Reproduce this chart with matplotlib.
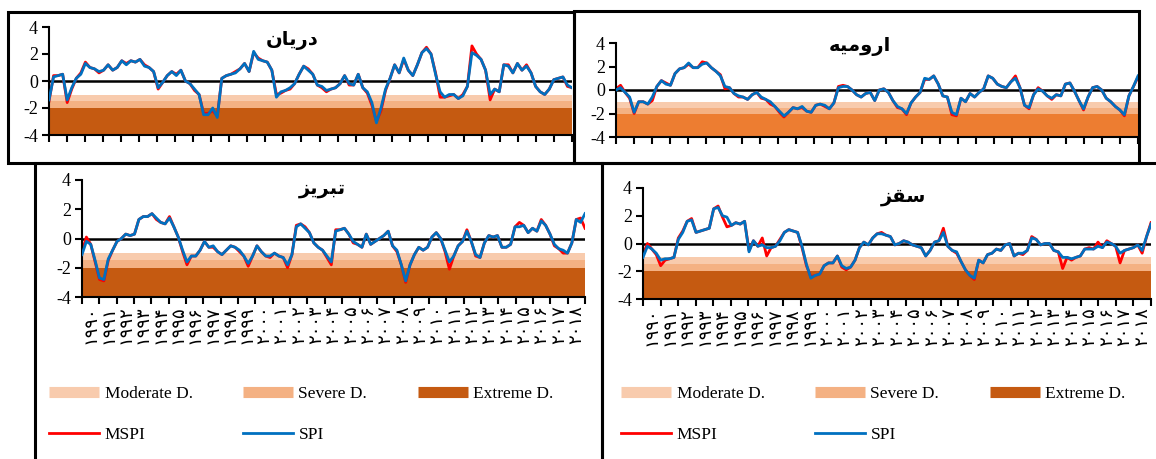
import numpy as np
import matplotlib
matplotlib.use('Agg')
import matplotlib.pyplot as plt
from matplotlib.lines import Line2D
from matplotlib.patches import Rectangle

W, H = 1156, 459

# سال ها (محور افقی)
years = list(range(1990, 2019))
fa_digits = str.maketrans('0123456789', '۰۱۲۳۴۵۶۷۸۹')
year_labels = [str(y).translate(fa_digits) for y in years]

# عنوان ایستگاه ها (حروف به شکل نمایشی، ترتیب دیداری)
title_darian = '\uFEE5\uFE8E\uFBFE\uFEAD\uFEA9'        # دریان
title_urmia = '\uFEEA\uFBFF\uFEE3\uFEED\uFEAD\uFE8D'   # ارومیه
title_tabriz = '\uFEB0\uFBFE\uFEAE\uFE92\uFE97'        # تبریز
title_saqqez = '\uFEB0\uFED8\uFEB3'                    # سقز

# داده های فصلی خوانده شده از نمودار (۱۹۹۰ تا ۲۰۱۸)
darian_spi = [-1.4, 0.3, 0.4, 0.5, -1.4, -0.5, 0.2, 0.5, 1.3, 1.0,
              0.9, 0.7, 0.8, 1.2, 0.8, 1.0, 1.5, 1.2, 1.5, 1.4,
              1.6, 1.1, 1.0, 0.7, -0.5, -0.1, 0.4, 0.7, 0.4, 0.8,
              0.0, -0.2, -0.6, -1.0, -2.5, -2.5, -2.0, -2.7, 0.2, 0.4,
              0.5, 0.6, 0.9, 1.3, 0.7, 2.2, 1.6, 1.5, 1.4, 0.8,
              -1.2, -0.8, -0.7, -0.5, -0.2, 0.5, 1.1, 0.8, 0.5, -0.3,
              -0.4, -0.7, -0.6, -0.5, -0.2, 0.4, -0.2, -0.3, 0.5, -0.5,
              -0.8, -1.6, -3.1, -2.0, -0.6, 0.2, 1.2, 0.6, 1.7, 0.8,
              0.4, 1.2, 2.1, 2.4, 2.0, 0.5, -0.8, -1.2, -1.0, -1.0,
              -1.3, -1.1, -0.4, 2.1, 1.9, 1.6, 0.8, -1.0, -0.6, -0.8,
              1.2, 1.1, 0.6, 1.3, 0.8, 1.1, 0.6, -0.4, -0.8, -1.0,
              -0.6, 0.1, 0.2, 0.3, -0.3, -0.5]
darian_mspi = [-1.5, 0.4, 0.4, 0.5, -1.6, -0.6, 0.2, 0.6, 1.4, 1.0,
               0.9, 0.6, 0.8, 1.2, 0.8, 1.0, 1.5, 1.3, 1.5, 1.4,
               1.6, 1.2, 1.0, 0.7, -0.6, -0.1, 0.4, 0.7, 0.5, 0.8,
               0.0, -0.2, -0.7, -1.0, -2.4, -2.4, -2.2, -2.6, 0.2, 0.4,
               0.5, 0.7, 0.9, 1.3, 0.7, 2.1, 1.7, 1.5, 1.4, 0.8,
               -1.0, -0.9, -0.7, -0.6, -0.2, 0.5, 1.1, 0.9, 0.5, -0.3,
               -0.5, -0.8, -0.6, -0.5, -0.2, 0.4, -0.3, -0.3, 0.5, -0.5,
               -0.9, -1.8, -3.0, -2.2, -0.7, 0.2, 1.2, 0.6, 1.6, 0.8,
               0.4, 1.2, 2.1, 2.5, 2.0, 0.6, -1.2, -1.2, -1.1, -1.0,
               -1.3, -1.0, -0.4, 2.6, 2.0, 1.6, 0.8, -1.4, -0.6, -0.8,
               1.2, 1.2, 0.6, 1.3, 0.8, 1.2, 0.6, -0.4, -0.8, -1.0,
               -0.6, 0.1, 0.2, 0.3, -0.4, -0.5]

urmia_spi = [0.0, 0.2, -0.2, -0.6, -1.9, -1.0, -1.0, -1.2, -0.6, 0.3,
             0.8, 0.5, 0.4, 1.4, 1.8, 1.9, 2.3, 1.9, 1.9, 2.2,
             2.3, 1.9, 1.6, 1.2, 0.3, 0.2, -0.3, -0.5, -0.6, -0.8,
             -0.4, -0.2, -0.6, -0.8, -1.0, -1.4, -1.8, -2.2, -1.9, -1.5,
             -1.6, -1.4, -1.8, -1.9, -1.3, -1.2, -1.3, -1.6, -1.1, 0.2,
             0.3, 0.3, 0.0, -0.4, -0.6, -0.3, -0.2, -0.9, 0.0, 0.1,
             -0.2, -0.9, -1.4, -1.6, -2.0, -1.1, -0.6, -0.2, 1.0, 0.9,
             1.2, 0.5, -0.5, -0.6, -1.9, -2.1, -0.7, -1.0, -0.3, -0.6,
             -0.2, 0.1, 1.2, 1.0, 0.5, 0.3, 0.2, 0.7, 1.0, 0.2,
             -1.3, -1.5, -0.4, 0.1, -0.1, -0.5, -0.7, -0.4, -0.5, 0.5,
             0.6, -0.1, -0.9, -1.6, -0.6, 0.2, 0.3, 0.0, -0.7, -1.0,
             -1.4, -1.7, -2.1, -0.5, 0.3, 1.2]
urmia_mspi = [0.1, 0.4, -0.2, -0.7, -2.0, -1.0, -1.0, -1.2, -0.9, 0.3,
              0.8, 0.6, 0.4, 1.4, 1.8, 1.9, 2.2, 1.9, 1.9, 2.4,
              2.3, 1.9, 1.6, 1.3, 0.1, 0.2, -0.3, -0.6, -0.6, -0.8,
              -0.4, -0.2, -0.7, -0.8, -1.2, -1.4, -1.9, -2.3, -1.9, -1.5,
              -1.6, -1.5, -1.8, -1.9, -1.3, -1.2, -1.4, -1.6, -1.1, 0.3,
              0.4, 0.3, 0.0, -0.4, -0.6, -0.3, -0.2, -0.9, 0.0, 0.1,
              -0.2, -0.9, -1.5, -1.6, -2.1, -1.1, -0.6, -0.2, 0.9, 0.9,
              1.2, 0.5, -0.5, -0.6, -2.1, -2.2, -0.7, -1.0, -0.3, -0.6,
              -0.2, 0.1, 1.2, 1.0, 0.5, 0.3, 0.2, 0.7, 1.2, 0.2,
              -1.3, -1.6, -0.4, 0.2, -0.1, -0.5, -0.8, -0.4, -0.5, 0.5,
              0.6, -0.1, -0.9, -1.7, -0.6, 0.2, 0.3, 0.0, -0.7, -1.0,
              -1.4, -1.7, -2.2, -0.5, 0.3, 1.1]

tabriz_spi = [-1.1, -0.2, -0.4, -1.5, -2.7, -2.8, -1.4, -0.8, -0.2, 0.0,
              0.3, 0.2, 0.3, 1.3, 1.5, 1.5, 1.7, 1.4, 1.1, 1.0,
              1.4, 0.8, 0.1, -0.8, -1.6, -1.2, -1.2, -0.8, -0.2, -0.6,
              -0.5, -0.9, -1.1, -0.8, -0.5, -0.6, -0.8, -1.2, -1.7, -1.2,
              -0.5, -0.9, -1.2, -1.2, -1.0, -1.2, -1.3, -1.8, -1.1, 0.8,
              1.0, 0.7, 0.4, -0.3, -0.6, -0.8, -1.2, -1.6, 0.5, 0.6,
              0.7, 0.3, -0.2, -0.4, -0.6, 0.3, -0.4, -0.2, 0.0, 0.2,
              0.5, -0.5, -0.8, -1.8, -2.9, -1.8, -1.1, -0.6, -0.8, -0.6,
              0.1, 0.4, 0.0, -0.8, -1.6, -1.2, -0.5, -0.2, 0.5, -0.2,
              -1.1, -1.3, -0.3, 0.2, 0.1, 0.2, -0.6, -0.6, -0.4, 0.8,
              0.8, 0.9, 0.4, 0.7, 0.5, 1.2, 0.9, 0.3, -0.4, -0.7,
              -0.8, -1.0, -0.3, 1.3, 1.1, 1.7]
tabriz_mspi = [-0.9, 0.1, -0.4, -1.6, -2.8, -2.9, -1.5, -0.8, -0.2, 0.0,
               0.3, 0.2, 0.3, 1.3, 1.5, 1.5, 1.7, 1.3, 1.1, 1.0,
               1.5, 0.8, 0.1, -0.9, -1.8, -1.2, -1.2, -0.8, -0.2, -0.6,
               -0.6, -0.9, -1.1, -0.8, -0.5, -0.6, -0.9, -1.2, -1.9, -1.2,
               -0.5, -0.9, -1.2, -1.3, -1.0, -1.2, -1.3, -2.0, -1.1, 0.9,
               1.0, 0.8, 0.4, -0.3, -0.6, -0.8, -1.3, -1.8, 0.6, 0.6,
               0.7, 0.3, -0.3, -0.4, -0.6, 0.3, -0.4, -0.2, 0.0, 0.2,
               0.5, -0.5, -0.9, -1.8, -3.0, -1.8, -1.1, -0.6, -0.8, -0.6,
               0.1, 0.4, 0.0, -0.9, -2.1, -1.2, -0.5, -0.2, 0.6, -0.2,
               -1.2, -1.3, -0.3, 0.2, 0.1, 0.2, -0.6, -0.6, -0.4, 0.8,
               1.1, 0.9, 0.4, 0.7, 0.5, 1.3, 0.9, 0.3, -0.5, -0.7,
               -1.0, -1.0, -0.3, 1.3, 1.4, 0.7]

saqqez_spi = [-1.0, -0.2, -0.4, -0.7, -1.2, -1.1, -1.1, -1.0, 0.3, 0.8,
              1.6, 1.7, 0.8, 0.9, 1.0, 1.1, 2.5, 2.6, 2.0, 1.9,
              1.3, 1.5, 1.4, 1.6, -0.6, 0.2, -0.2, -0.1, -0.3, -0.3,
              -0.2, 0.2, 0.8, 1.0, 0.9, 0.8, -0.2, -1.5, -2.5, -2.3,
              -2.2, -1.6, -1.4, -1.4, -0.9, -1.6, -1.8, -1.7, -1.2, -0.3,
              0.1, -0.1, 0.4, 0.7, 0.7, 0.6, 0.5, -0.1, 0.0, 0.2,
              0.1, -0.1, -0.2, -0.3, -0.9, -0.5, 0.1, 0.2, 0.8, -0.2,
              -0.5, -0.6, -1.3, -1.9, -2.3, -2.5, -1.2, -1.4, -0.8, -0.7,
              -0.4, -0.5, -0.1, 0.0, -0.9, -0.7, -0.7, -0.5, 0.4, 0.3,
              -0.1, 0.0, 0.0, -0.5, -0.6, -1.0, -1.0, -1.1, -1.0, -0.9,
              -0.4, -0.4, -0.4, -0.2, -0.3, 0.1, 0.0, -0.2, -0.7, -0.5,
              -0.4, -0.3, -0.1, -0.5, 0.5, 1.4]
saqqez_mspi = [-0.8, 0.0, -0.4, -0.8, -1.6, -1.2, -1.1, -1.0, 0.4, 0.9,
               1.6, 1.8, 0.8, 0.9, 1.0, 1.1, 2.5, 2.7, 1.9, 1.2,
               1.3, 1.5, 1.4, 1.6, -0.5, 0.2, -0.2, 0.4, -0.9, -0.3,
               -0.2, 0.3, 0.8, 1.0, 0.9, 0.8, -0.3, -1.6, -2.4, -2.3,
               -2.2, -1.6, -1.4, -1.4, -0.9, -1.7, -1.9, -1.7, -1.2, -0.3,
               0.1, -0.1, 0.4, 0.7, 0.8, 0.6, 0.5, -0.1, 0.0, 0.2,
               0.1, -0.1, -0.2, -0.3, -0.9, -0.5, 0.1, 0.2, 1.1, -0.2,
               -0.5, -0.7, -1.3, -1.9, -2.3, -2.6, -1.2, -1.4, -0.8, -0.7,
               -0.4, -0.5, -0.1, 0.0, -0.9, -0.7, -0.8, -0.5, 0.5, 0.3,
               -0.1, 0.0, 0.0, -0.5, -0.6, -1.8, -1.0, -1.2, -1.0, -0.9,
               -0.4, -0.3, -0.4, 0.1, -0.3, 0.2, 0.0, -0.2, -1.4, -0.5,
               -0.4, -0.3, -0.1, -0.7, 0.5, 1.5]

# طبقات خشکسالی
band_edges = [(-1.5, -1.0), (-2.0, -1.5), (-4.0, -2.0)]
band_names = ['Moderate D.', 'Severe D.', 'Extreme D.']
band_colors = ['#f8cbad', '#f4b183', '#c55a11']
band_colors_urmia = ['#f8cbad', '#f4b183', '#ed7d31']
mspi_color = '#ff0000'
spi_color = '#0070c0'

serif = ['Liberation Serif', 'DejaVu Serif']
arabic = ['DejaVu Sans']


def px_rect(l, t, r, b):
    return [l / W, 1 - b / H, (r - l) / W, (b - t) / H]


fig = plt.figure(figsize=(W / 100, H / 100), dpi=100)

# (ایستگاه، محل محور به پیکسل، محل عنوان، رنگ ها، برچسب سال؟)
panels = [
    (darian_spi, darian_mspi, title_darian, (49, 27, 572, 135), (292, 40), band_colors, False),
    (urmia_spi, urmia_mspi, title_urmia, (616, 43, 1138, 137), (860, 47), band_colors_urmia, False),
    (tabriz_spi, tabriz_mspi, title_tabriz, (82, 180, 585, 297), (322, 188), band_colors, True),
    (saqqez_spi, saqqez_mspi, title_saqqez, (643, 188, 1151, 299), (904, 196), band_colors, True),
]

axes = []
for spi, mspi, title, pos, tpos, colors, show_years in panels:
    ax = fig.add_axes(px_rect(*pos))
    for (lo, hi), c in zip(band_edges, colors):
        ax.axhspan(lo, hi, color=c, lw=0, zorder=0)
    ax.axhline(0, color='black', lw=1.8, zorder=1)
    t_m = 1990 + np.arange(len(mspi)) * 29 / (len(mspi) - 1)
    t_s = 1990 + np.arange(len(spi)) * 29 / (len(spi) - 1)
    ax.plot(t_m, mspi, color=mspi_color, lw=2.0, zorder=2)
    ax.plot(t_s, spi, color=spi_color, lw=2.0, zorder=3)
    ax.set_xlim(1990, 2019)
    ax.set_ylim(-4, 4)
    ax.set_yticks([-4, -2, 0, 2, 4])
    ax.set_yticklabels(['-4', '-2', '0', '2', '4'], family=serif, fontsize=13)
    ax.set_xticks(range(1990, 2020))
    ax.set_xticklabels([])
    ax.tick_params(axis='both', direction='out', length=5, width=1.5, color='black', pad=3)
    if show_years:
        ax.set_xticks([y + 0.5 for y in years], minor=True)
        ax.set_xticklabels(year_labels, minor=True, rotation=90, family=arabic, fontsize=13)
        ax.tick_params(axis='x', which='minor', length=0, pad=6)
    for s in ['top', 'right']:
        ax.spines[s].set_visible(False)
    for s in ['left', 'bottom']:
        ax.spines[s].set_linewidth(1.5)
    ax.patch.set_alpha(0)
    fig.text(tpos[0] / W, 1 - tpos[1] / H, title, family=arabic, fontsize=14,
             fontweight='bold', ha='center', va='center')
    axes.append(ax)

# کادر دور هر نمودار
for l, t, r, b in [(8, 12, 574, 163), (574, 11, 1139, 163), (35, 163, 602, 470), (602, 163, 1170, 470)]:
    fig.add_artist(Rectangle((l / W, 1 - b / H), (r - l) / W, (b - t) / H, fill=False,
                             lw=2.2, edgecolor='black', transform=fig.transFigure))

# راهنما
handles = [Line2D([], [], color=band_colors[0], lw=8, solid_capstyle='butt'),
           Line2D([], [], color=mspi_color, lw=2),
           Line2D([], [], color=band_colors[1], lw=8, solid_capstyle='butt'),
           Line2D([], [], color=spi_color, lw=2),
           Line2D([], [], color=band_colors[2], lw=8, solid_capstyle='butt')]
labels = [band_names[0], 'MSPI', band_names[1], 'SPI', band_names[2]]
for ax, x0 in [(axes[2], 49), (axes[3], 621)]:
    ax.legend(handles, labels, ncol=3, loc='upper left', frameon=False,
              bbox_to_anchor=(x0 / W, 1 - 386 / H), bbox_transform=fig.transFigure,
              prop={'family': serif, 'size': 12.5}, handlelength=2.9, handletextpad=0.3,
              columnspacing=2.9, labelspacing=1.45, borderpad=0, borderaxespad=0)

fig.savefig('out.png', dpi=100)
